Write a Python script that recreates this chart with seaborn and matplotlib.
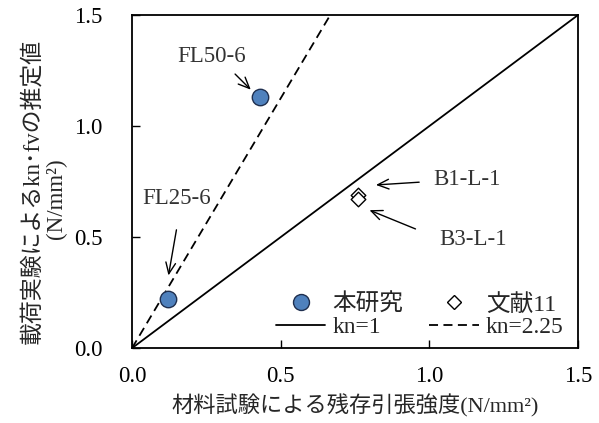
import matplotlib
matplotlib.use("Agg")
import matplotlib.pyplot as plt
import seaborn as sns
import numpy as np
import pandas as pd
from matplotlib.lines import Line2D

# ---- data ----
this_names = ["FL25-6", "FL50-6"]
this_x = [0.12, 0.43]
this_y = [0.22, 1.13]

ref_names = ["B1-L-1", "B3-L-1"]
ref_x = [0.76, 0.76]
ref_y = [0.69, 0.67]

kn_values = [1.0, 2.25]
kn_labels = ["kn=1", "kn=2.25"]
line_x = [0.0, 1.5]

x_ticks = [0.0, 0.5, 1.0, 1.5]
y_ticks = [0.0, 0.5, 1.0, 1.5]

sns.set_style("ticks")
plt.rcParams["font.family"] = ["Liberation Serif", "Noto Sans CJK JP", "DejaVu Sans"]

fig = plt.figure(figsize=(5.99, 4.23), dpi=100)
ax = fig.add_axes([0.2204, 0.177, 0.7446, 0.7875])

# lines
line_df = pd.DataFrame({
    "x": np.concatenate([line_x for _ in kn_values]),
    "y": np.concatenate([np.array(line_x) * k for k in kn_values]),
    "kn": np.repeat(kn_labels, len(line_x)),
})
sns.lineplot(data=line_df, x="x", y="y", style="kn", style_order=kn_labels,
             dashes={"kn=1": "", "kn=2.25": (5, 3)}, color="black", lw=1.3,
             ax=ax, legend=False)

sns.scatterplot(x=this_x, y=this_y, ax=ax, s=140, color="#4F81BD",
                edgecolor="#1F2F4F", linewidth=1.0, marker="o", zorder=5)
sns.scatterplot(x=ref_x, y=ref_y, ax=ax, s=55, color="white",
                edgecolor="black", linewidth=1.0, marker="D", zorder=5)

ax.set_xlim(0, 1.5)
ax.set_ylim(0, 1.5)
ax.set_xticks(x_ticks)
ax.set_yticks(y_ticks)
ax.set_xticklabels([f"{v:.1f}" for v in x_ticks])
ax.set_yticklabels([f"{v:.1f}" for v in y_ticks])
ax.tick_params(direction="in", length=6, width=1, labelsize=16.5, colors="black")
ax.tick_params(axis="x", pad=13)
ax.tick_params(axis="y", pad=21)
for s in ax.spines.values():
    s.set_visible(True)
    s.set_linewidth(1.3)
    s.set_color("black")

ax.set_xlabel("材料試験による残存引張強度(N/mm²)", fontsize=16, labelpad=5)
ax.set_ylabel("")
fig.text(0.0534, 0.548, "載荷実験によるkn･fvの推定値", rotation=90, fontsize=16.5,
         ha="center", va="center")
fig.text(0.0935, 0.5296, "(N/mm²)", rotation=90, fontsize=16.5,
         ha="center", va="center")

# annotations
ann = [
    ("FL50-6", (0.266, 1.311), (0.340, 1.243), (0.406, 1.155)),
    ("FL25-6", (0.151, 0.676), (0.151, 0.545), (0.121, 0.315)),
    ("B1-L-1", (1.127, 0.761), (0.975, 0.748), (0.811, 0.734)),
    ("B3-L-1", (1.147, 0.491), (0.962, 0.532), (0.790, 0.626)),
]
for label, tpos, tail, tip in ann:
    ax.text(tpos[0], tpos[1], label, fontsize=16.5, ha="center", va="center", color="#333333")
    ax.annotate("", xy=tip, xytext=tail,
                arrowprops=dict(arrowstyle="->,head_length=0.8,head_width=0.35", color="black", lw=1.0))

handles = [
    Line2D([], [], marker="o", ls="none", markersize=11.5, markerfacecolor="#4F81BD",
           markeredgecolor="#1F2F4F"),
    Line2D([], [], color="black", lw=1.3),
    Line2D([], [], marker="D", ls="none", markersize=7, markerfacecolor="white",
           markeredgecolor="black"),
    Line2D([], [], color="black", lw=1.3, dashes=(5, 3)),
]
labels = ["本研究", kn_labels[0], "文献11", kn_labels[1]]
ax.legend(handles, labels, ncol=2, loc="lower right", bbox_to_anchor=(0.968, 0.03),
          frameon=False, fontsize=17, handlelength=2.1, handletextpad=0.3,
          columnspacing=1.1, labelspacing=0.05, borderaxespad=0.0, borderpad=0.0)

fig.savefig("out.png", dpi=100)
